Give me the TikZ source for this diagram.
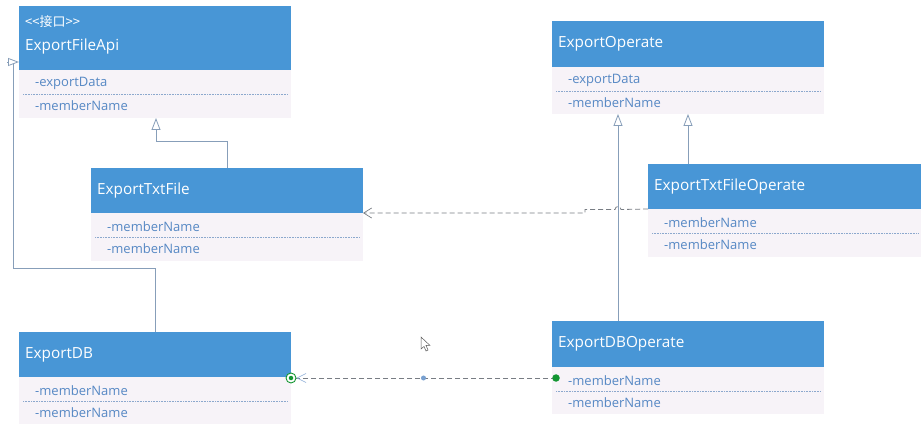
\documentclass[tikz,border=0pt]{standalone}
\usepackage{fontspec}
\setmainfont{Open Sans}
\newfontfamily\cjk{Noto Sans CJK SC}
\usetikzlibrary{arrows.meta,calc}
\definecolor{hdrblue}{RGB}{72,150,214}
\definecolor{bodyc}{RGB}{247,243,248}
\definecolor{attrc}{RGB}{86,136,196}
\definecolor{connc}{RGB}{135,158,185}
\definecolor{sepc}{RGB}{140,168,205}
\definecolor{dashc}{RGB}{120,125,132}
\definecolor{dotg}{RGB}{20,150,50}
\newcommand\umlcls[9]{%
  \node[hdr, minimum width=#4pt, minimum height=#5pt] (#1) at (#2,#3) {};
  \node[bdy, minimum width=#4pt, minimum height=#9pt] (#1-b) at (#1.south west) {};
  \node[ttl] (#1-t) at ($(#1.west)+(6,0)$) {#6};
  \draw[sepl] ($(#1-b.north west)+(4,24.5)$) -- ($(#1-b.north east)+(-3,24.5)$);
  \node[attr] (#1-a1) at ($(#1-b.north west)+(16,13.5)$) {#7};
  \node[attr] (#1-a2) at ($(#1-b.north west)+(16,35.5)$) {#8};
}
\begin{document}
\begin{tikzpicture}[x=1pt,y=-1pt,
  hdr/.style={fill=hdrblue, draw=none, anchor=north west, inner sep=0, outer sep=0},
  bdy/.style={fill=bodyc, draw=none, anchor=north west, inner sep=0, outer sep=0},
  ttl/.style={anchor=west, inner sep=0, text=white, font=\fontsize{15.3}{18}\selectfont},
  attr/.style={anchor=west, inner sep=0, text=attrc, font=\fontsize{13}{15}\selectfont},
  sepl/.style={draw=sepc, line width=0.6pt, dash pattern=on 1pt off 0.6pt},
  conn/.style={draw=connc, line width=0.8pt},
  gen/.style={conn, -{Triangle[length=12pt,width=9pt,fill=white,line width=0.8pt]}},
  dep/.style={draw=dashc, line width=0.8pt, dash pattern=on 5pt off 3pt},
  dot/.style={circle, inner sep=0, outer sep=0}]
\fill[white] (0,0) rectangle (924,430);
\useasboundingbox (0,0) rectangle (924,430);

\umlcls{api}{19}{6}{272}{64}{}{-exportData}{-memberName}{48}
\node[ttl] (api-s) at ($(api.north west)+(6,16)$) {\cjk\fontsize{13}{15}\selectfont{<}{<}接口{>}{>}};
\node[ttl] (api-t2) at ($(api.north west)+(6,41)$) {ExportFileApi};
\umlcls{op}{552}{21}{272}{46}{ExportOperate}{-exportData}{-memberName}{47}
\umlcls{txt}{91}{168}{272}{45}{ExportTxtFile}{-memberName}{-memberName}{48}
\umlcls{txtop}{648}{164}{273}{45}{ExportTxtFileOperate}{-memberName}{-memberName}{48}
\umlcls{db}{19}{332}{272}{45}{ExportDB}{-memberName}{-memberName}{47}
\umlcls{dbop}{552}{321}{272}{46}{ExportDBOperate}{-memberName}{-memberName}{47}

% ExportTxtFile -> ExportFileApi
\coordinate (j1) at (227,141);
\coordinate (j2) at (156,141);
\draw[gen] (j1 |- txt.north) -- (j1) -- (j2) -- (j2 |- api-b.south);

% ExportDB -> ExportFileApi
\coordinate (k1) at (155,268);
\coordinate (k2) at (13,268);
\coordinate (k3) at (13,62);
\coordinate (k4) at (7,62);
\draw[conn] (k1 |- db.north) -- (k1) -- (k2) -- (k3);
\draw[conn, -{Triangle[length=11pt,width=8pt,fill=white,line width=0.8pt]}] (k4) -- (k4 -| api.west);

% ExportTxtFileOperate -> ExportOperate
\coordinate (m1) at (688,150);
\draw[gen] (m1 |- txtop.north) -- (m1 |- op-b.south);
% ExportDBOperate -> ExportOperate
\coordinate (m2) at (618,300);
\draw[gen] (m2 |- dbop.north) -- (m2 |- op-b.south);

% dependency ExportTxtFileOperate -> ExportTxtFile
\draw[dep, -{Straight Barb[length=8pt,width=10pt,line width=0.7pt]}] (txtop-b.north west) -- (621,209.5) arc[start angle=0,end angle=-180,radius=3] -- (585,209.5) -- (585,213) -- (txt-b.north east);

% association ExportDBOperate -> ExportDB
\coordinate (e1) at ($(dbop-b.north west)+(4,11)$);
\coordinate (e2) at ($(db-b.north east)+(0,1)$);
\draw[dep] (e1) -- (e2);
\draw[draw=attrc!70, line width=0.6pt] ($(e2)+(15,-4.5)$) -- ($(e2)+(6,0)$) -- ($(e2)+(15,4.5)$);
\node[dot, fill=dotg, minimum size=7.5pt] (g1) at (e1) {};
\node[dot, draw=dotg, fill=white, line width=0.9pt, minimum size=10pt] (g2) at (e2) {};
\node[dot, fill=dotg, minimum size=4.5pt] (g3) at (e2) {};
\node[dot, fill=attrc!80, minimum size=5pt] (mid) at ($(e1)!0.5!(e2)$) {};

% mouse cursor
\draw[fill=white, draw=gray!70!black, line width=0.5pt] (421,337) -- (421,349) -- (424,346.5) -- (426,351) -- (428,350) -- (426,345.5) -- (430,345.5) -- cycle;
\end{tikzpicture}
\end{document}
